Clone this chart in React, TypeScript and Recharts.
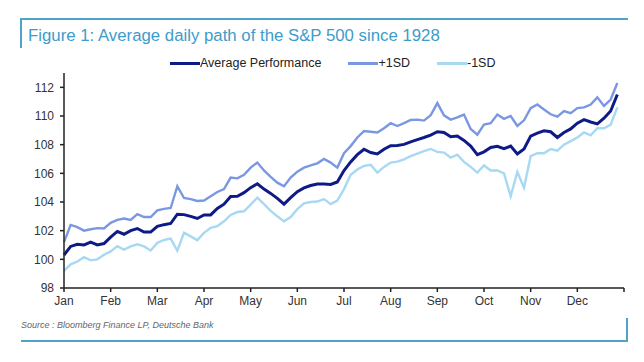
import { LineChart, Line, XAxis, YAxis } from 'recharts'

const months = ['Jan', 'Feb', 'Mar', 'Apr', 'May', 'Jun', 'Jul', 'Aug', 'Sep', 'Oct', 'Nov', 'Dec']
const yTicks = [98, 100, 102, 104, 106, 108, 110, 112]

// read every 3 trading days (21 per month)
const avgPerf = [
  100.3, 100.9, 101.05, 101.0, 101.2, 101.0, 101.1, 101.55, 101.95, 101.75,
  102.0, 102.15, 101.9, 101.9, 102.3, 102.42, 102.5, 103.15, 103.12, 103.0,
  102.85, 103.1, 103.1, 103.55, 103.85, 104.38, 104.4, 104.65, 105.0, 105.27,
  104.9, 104.6, 104.25, 103.85, 104.3, 104.72, 104.98, 105.15, 105.25, 105.25,
  105.22, 105.4, 106.2, 106.8, 107.3, 107.68, 107.45, 107.35, 107.68, 107.93,
  107.95, 108.02, 108.2, 108.35, 108.5, 108.67, 108.9, 108.85, 108.55, 108.6,
  108.3, 107.9, 107.3, 107.5, 107.8, 107.88, 107.72, 107.9, 107.35, 107.7,
  108.6, 108.8, 108.97, 108.9, 108.5, 108.85, 109.1, 109.5, 109.75, 109.58,
  109.45, 109.85, 110.35, 111.5,
]
const plusSD = [
  101.2, 102.4, 102.25, 102.0, 102.1, 102.18, 102.15, 102.55, 102.75, 102.85,
  102.75, 103.15, 102.95, 102.95, 103.42, 103.52, 103.58, 105.1, 104.28, 104.2,
  104.07, 104.1, 104.4, 104.7, 104.9, 105.7, 105.65, 105.9, 106.4, 106.75,
  106.2, 105.75, 105.35, 105.1, 105.7, 106.12, 106.4, 106.55, 106.7, 107.0,
  106.75, 106.4, 107.4, 107.9, 108.5, 108.95, 108.9, 108.85, 109.15, 109.5,
  109.3, 109.5, 109.72, 109.75, 109.68, 110.05, 110.9, 110.05, 109.75, 109.9,
  110.1, 109.1, 108.7, 109.4, 109.5, 110.1, 109.8, 110.0, 109.3, 109.7,
  110.55, 110.8, 110.45, 110.12, 109.95, 110.35, 110.2, 110.55, 110.6, 110.8,
  111.3, 110.7, 111.15, 112.3,
]
const minusSD = [
  99.2, 99.65, 99.85, 100.15, 99.93, 100.0, 100.32, 100.55, 100.92, 100.68,
  100.9, 101.05, 100.9, 100.62, 101.15, 101.35, 101.44, 100.6, 101.85, 101.6,
  101.34, 101.85, 102.2, 102.32, 102.65, 103.1, 103.3, 103.35, 103.82, 104.3,
  103.85, 103.38, 103.0, 102.65, 102.95, 103.5, 103.9, 104.0, 104.03, 104.2,
  103.85, 104.1, 104.9, 105.9, 106.27, 106.52, 106.6, 106.05, 106.45, 106.75,
  106.82, 106.97, 107.2, 107.38, 107.55, 107.7, 107.5, 107.45, 107.1, 107.3,
  106.8, 106.45, 106.05, 106.55, 106.2, 106.2, 106.0, 104.4, 106.1, 105.0,
  107.2, 107.4, 107.4, 107.7, 107.58, 108.0, 108.25, 108.5, 108.85, 108.65,
  109.15, 109.15, 109.4, 110.6,
]

const series = [
  { key: 'avg', name: 'Average Performance', color: '#0e1b86', width: 3 },
  { key: 'up', name: '+1SD', color: '#7a98e2', width: 2.4 },
  { key: 'down', name: '-1SD', color: '#a7d9f3', width: 2.4 },
]

const data = avgPerf.map((v, i) => ({ day: i * 3, avg: v, up: plusSD[i], down: minusSD[i] }))
const monthTicks = [...months.map((_, i) => i * 21), 252]

const teal = '#4fa3c6'
const font = '"Liberation Sans", Arial, sans-serif'

export default function App() {
  return (
    <div style={{ position: 'absolute', left: 0, top: 0, width: 644, height: 362, background: '#fff', fontFamily: font }}>
      {/* frame */}
      <div style={{ position: 'absolute', left: 21, top: 18, width: 607, height: 2, background: teal }} />
      <div style={{ position: 'absolute', left: 20, top: 18, width: 2, height: 30, background: teal }} />
      <div style={{ position: 'absolute', left: 21, top: 340, width: 607, height: 2, background: teal }} />
      <div style={{ position: 'absolute', left: 626, top: 318, width: 2, height: 24, background: teal }} />

      <div style={{ position: 'absolute', left: 28, top: 26, fontSize: 16.8, color: '#3d9cc9', whiteSpace: 'nowrap' }}>
        Figure 1: Average daily path of the S&amp;P 500 since 1928
      </div>

      {/* legend */}
      <div style={{ position: 'absolute', left: 170, top: 56, display: 'flex', gap: 27, fontSize: 12.5, color: '#222' }}>
        {series.map(s => (
          <div key={s.key} style={{ display: 'flex', alignItems: 'center' }}>
            <div style={{ width: 30, height: 3, background: s.color }} />
            <span>{s.name}</span>
          </div>
        ))}
      </div>

      <div style={{ position: 'absolute', top: 0, left: 0 }}>
        <LineChart width={644} height={362} data={data} margin={{ top: 73, right: 20, bottom: 44, left: 4 }}>
          <XAxis
            dataKey="day"
            type="number"
            domain={[0, 252]}
            ticks={monthTicks}
            tickFormatter={(v: number) => months[v / 21] ?? ''}
            tickSize={4}
            tickMargin={4}
            stroke="#222"
            strokeWidth={1.5}
            tick={{ fill: '#333', fontSize: 12, fontFamily: font }}
            height={30}
          />
          <YAxis
            domain={[98, 113]}
            ticks={yTicks}
            width={60}
            tickSize={4}
            tickMargin={6}
            stroke="#222"
            strokeWidth={1.5}
            tick={{ fill: '#333', fontSize: 12, fontFamily: font }}
          />
          <Line dataKey="down" stroke={series[2].color} strokeWidth={series[2].width} dot={false} isAnimationActive={false} />
          <Line dataKey="up" stroke={series[1].color} strokeWidth={series[1].width} dot={false} isAnimationActive={false} />
          <Line dataKey="avg" stroke={series[0].color} strokeWidth={series[0].width} dot={false} isAnimationActive={false} />
        </LineChart>
      </div>

      <div style={{ position: 'absolute', left: 21, top: 320, fontSize: 9, fontStyle: 'italic', color: '#666', whiteSpace: 'nowrap' }}>
        Source : Bloomberg Finance LP, Deutsche Bank
      </div>
    </div>
  )
}
